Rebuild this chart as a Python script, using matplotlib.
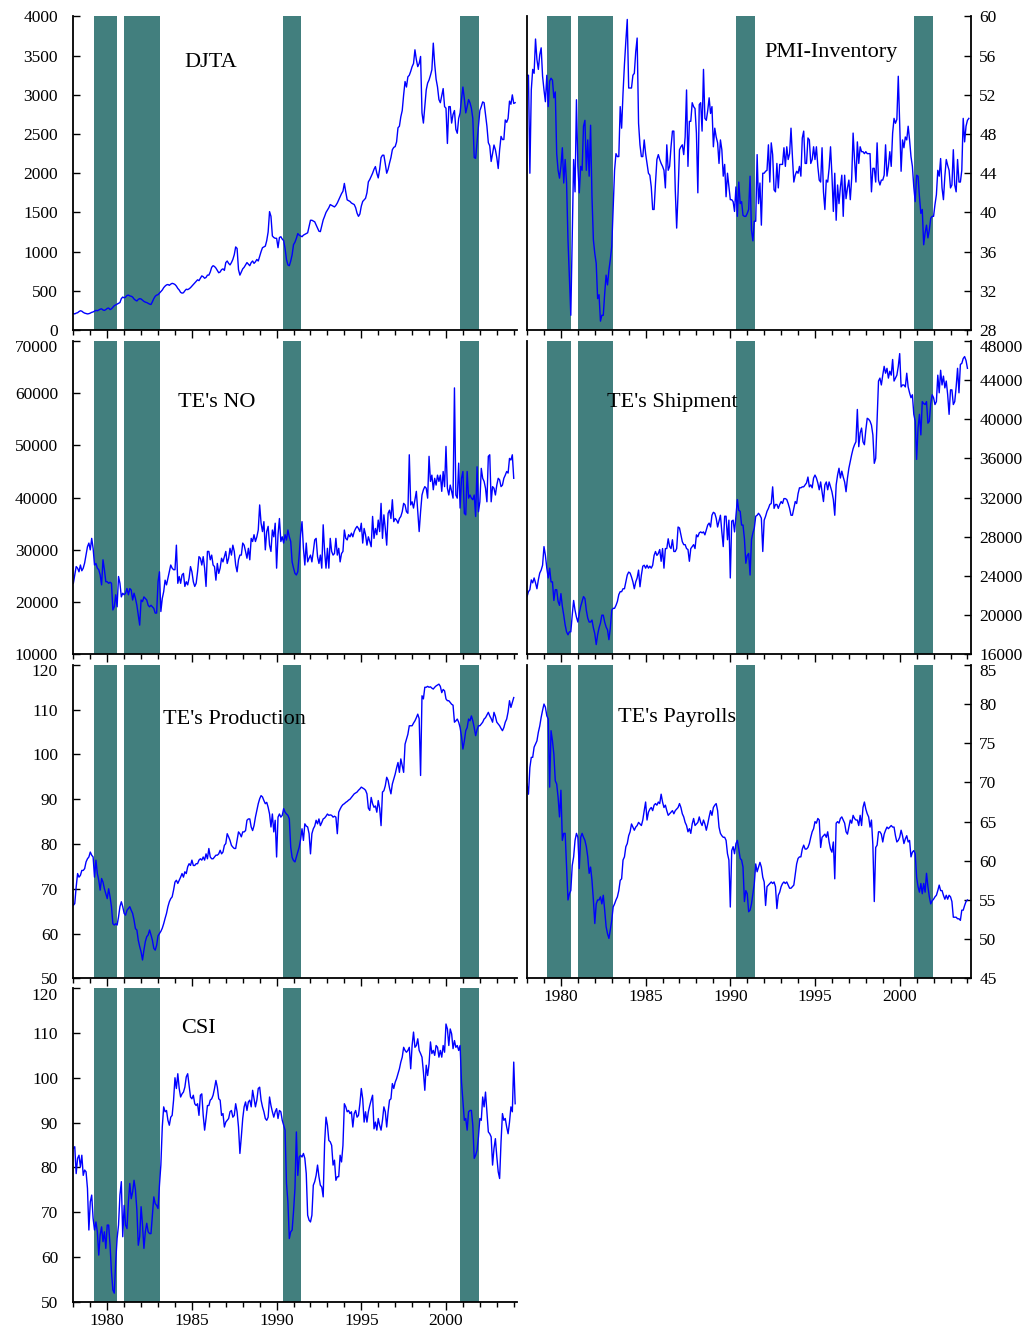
import numpy as np
import matplotlib.pyplot as plt
from matplotlib.ticker import MultipleLocator, FixedLocator
from matplotlib.transforms import ScaledTranslation

plt.rcParams['font.family'] = ['Liberation Serif', 'DejaVu Serif']

# shaded periods, decimal years
shade_start = [1979.2, 1981.0, 1990.35, 2000.85]
shade_end = [1980.6, 1983.1, 1991.45, 2001.95]

# monthly series, Jan 1978 onward (one row per year)
djta = [
    210, 205, 215, 220, 235, 245, 240, 225, 215, 210, 205, 208,
    215, 225, 230, 240, 250, 245, 255, 265, 270, 255, 250, 260,
    275, 280, 260, 270, 290, 310, 320, 330, 340, 350, 400, 420,
    410, 420, 440, 445, 435, 430, 420, 395, 380, 370, 390, 400,
    395, 380, 365, 355, 350, 340, 330, 325, 360, 400, 430, 445,
    450, 470, 490, 510, 540, 560, 575, 580, 570, 585, 595, 590,
    580, 560, 530, 510, 480, 470, 475, 500, 520, 515, 525, 540,
    560, 580, 600, 620, 640, 630, 660, 690, 680, 660, 670, 700,
    700, 740, 800, 820, 810, 790, 760, 730, 740, 770, 780, 760,
    860, 880, 850, 830, 860, 900, 960, 1060, 1040, 770, 700, 740,
    780, 800, 830, 860, 840, 820, 860, 880, 850, 870, 900, 880,
    940, 1000, 1050, 1060, 1070, 1140, 1250, 1510, 1450, 1200, 1180, 1170,
    1170, 1050, 1180, 1190, 1160, 1140, 1040, 900, 830, 820, 880, 960,
    1090, 1120, 1170, 1230, 1210, 1200, 1190, 1210, 1220, 1230, 1240, 1320,
    1400, 1400, 1390, 1380, 1340, 1300, 1260, 1255, 1330, 1404, 1450, 1500,
    1530, 1560, 1600, 1590, 1580, 1570, 1590, 1620, 1660, 1700, 1740, 1770,
    1870, 1760, 1660, 1650, 1640, 1620, 1610, 1600, 1560, 1490, 1450, 1480,
    1580, 1640, 1660, 1680, 1750, 1890, 1920, 1960, 2000, 2050, 2085, 2000,
    1940, 2050, 2200, 2230, 2230, 2120, 2000, 2050, 2130, 2200, 2300, 2330,
    2340, 2400, 2580, 2600, 2720, 2800, 3000, 3170, 3100, 3230, 3250, 3300,
    3360, 3400, 3575, 3450, 3360, 3400, 3490, 2770, 2640, 2850, 3064, 3150,
    3190, 3250, 3320, 3660, 3390, 3200, 3100, 2940, 2900, 2990, 3080, 2850,
    2830, 2380, 2850, 2850, 2640, 2750, 2800, 2560, 2510, 2700, 2770, 2950,
    3100, 2950, 2770, 2850, 2940, 2900, 2830, 2700, 2200, 2190, 2400, 2600,
    2800, 2850, 2910, 2900, 2750, 2600, 2390, 2350, 2150, 2250, 2360, 2300,
    2200, 2060, 2300, 2470, 2430, 2430, 2680, 2650, 2700, 2920, 2880, 3000,
    2890, 2900,
]

pmi_inventory = [
    54.0, 54.0, 44.0, 52.5, 54.6, 54.2, 57.7, 55.6, 54.6, 56.1, 56.8, 53.9,
    52.5, 51.3, 54.0, 50.8, 53.4, 53.7, 53.5, 51.7, 52.3, 46.0, 44.3, 43.5,
    44.7, 46.6, 43.0, 45.4, 43.0, 37.2, 33.4, 29.5, 37.5, 45.4, 42.1, 51.5,
    44.7, 42.0, 44.7, 44.3, 48.8, 49.4, 44.3, 47.4, 43.7, 48.9, 41.6, 37.2,
    35.8, 34.8, 31.2, 31.6, 28.9, 29.5, 29.5, 31.7, 33.6, 32.6, 34.1, 35.2,
    36.5, 40.3, 44.3, 46.0, 45.7, 45.7, 50.8, 48.6, 52.2, 55.1, 57.5, 59.7,
    52.7, 52.7, 52.7, 54.0, 54.2, 56.4, 57.8, 49.1, 46.9, 45.7, 45.7, 47.4,
    46.0, 45.0, 44.0, 43.8, 42.6, 40.3, 40.3, 43.0, 45.4, 45.9, 45.4, 45.0,
    44.7, 44.3, 42.5, 46.9, 44.3, 44.7, 46.7, 48.3, 48.3, 42.3, 38.4, 42.0,
    46.4, 46.7, 46.9, 45.9, 47.7, 52.5, 44.7, 49.3, 49.3, 51.2, 50.8, 50.6,
    48.1, 42.0, 51.0, 51.2, 48.3, 54.6, 49.6, 49.4, 50.4, 51.7, 50.1, 50.8,
    46.7, 48.6, 47.7, 47.1, 45.0, 47.4, 46.4, 43.7, 44.9, 41.6, 44.0, 42.6,
    41.3, 41.3, 41.1, 40.1, 42.6, 39.6, 43.1, 40.9, 41.1, 39.7, 39.6, 39.6,
    39.9, 40.3, 43.7, 38.2, 37.1, 39.1, 39.1, 45.9, 40.9, 43.0, 38.7, 44.0,
    44.0, 44.2, 44.3, 46.9, 43.1, 47.1, 45.9, 42.3, 42.1, 45.0, 42.5, 44.9,
    44.9, 44.9, 46.6, 44.7, 46.7, 45.4, 46.0, 48.6, 45.7, 43.1, 43.8, 44.2,
    44.0, 44.7, 43.7, 47.6, 48.3, 45.0, 45.0, 47.6, 47.4, 45.0, 45.4, 46.7,
    45.4, 46.7, 44.7, 43.3, 43.1, 46.6, 42.1, 40.3, 43.3, 43.1, 44.5, 46.7,
    43.8, 40.1, 44.0, 39.2, 42.8, 40.9, 42.6, 43.8, 39.6, 43.8, 41.4, 42.5,
    43.3, 41.3, 43.5, 48.1, 45.4, 43.1, 47.2, 45.0, 46.7, 46.2, 46.2, 46.0,
    46.2, 46.0, 46.0, 46.0, 42.1, 44.5, 44.5, 43.1, 47.1, 43.3, 42.8, 43.3,
    43.3, 43.8, 46.9, 43.7, 44.7, 46.2, 44.7, 48.1, 49.6, 49.1, 49.5, 53.9,
    49.1, 44.2, 47.4, 46.6, 47.7, 47.4, 48.8, 47.4, 45.7, 44.7, 42.6, 41.1,
    43.8, 43.7, 41.6, 39.9, 40.3, 36.7, 37.9, 38.7, 37.4, 38.2, 39.4, 39.6,
    39.6, 40.8, 41.8, 44.3, 43.7, 45.5, 42.5, 41.3, 43.7, 45.4, 44.8, 44.3,
    42.5, 42.8, 46.4, 42.8, 42.1, 45.4, 43.1, 43.1, 44.3, 49.6, 47.2, 48.8,
    49.4, 49.6,
]

te_no = [
    23600, 25200, 26800, 26500, 25800, 27100, 26000, 26500, 27500, 29000, 30600, 31300,
    30000, 32200, 30300, 27100, 27400, 26500, 26200, 25200, 23300, 28100, 26200, 23900,
    23900, 23600, 23800, 23600, 18500, 19100, 21400, 19100, 24900, 23600, 21000, 21700,
    21400, 21700, 22600, 21400, 22600, 22300, 20400, 21700, 20700, 19400, 17500, 15600,
    20400, 20100, 21000, 20700, 20400, 19400, 19100, 19400, 19100, 18800, 17900, 17900,
    23900, 25800, 18200, 20700, 22000, 24200, 23300, 24600, 25800, 27100, 26500, 26200,
    26200, 30900, 23600, 24900, 23600, 25200, 25500, 23000, 23900, 23300, 24600, 26800,
    25800, 23900, 23000, 23600, 25800, 28700, 28400, 27100, 28700, 26500, 23000, 29700,
    29700, 28100, 29000, 27100, 26800, 24200, 27400, 25500, 26500, 28400, 27700, 28700,
    29700, 27400, 28400, 30300, 29000, 30900, 29700, 27100, 25800, 28100, 29000, 29000,
    31300, 30900, 29700, 28400, 30300, 28100, 32200, 31600, 32900, 31600, 32500, 33800,
    38600, 35100, 33500, 35400, 30000, 33500, 34500, 30900, 29700, 33800, 32500, 35100,
    26500, 32900, 36000, 31600, 32500, 31300, 32900, 31900, 33800, 32500, 31600, 27700,
    26500, 25500, 25200, 25800, 29000, 33000, 35400, 30300, 27100, 31300, 27700, 28400,
    29000, 27700, 29700, 31900, 32200, 28700, 27400, 29000, 26500, 34800, 29700, 26500,
    30300, 26500, 32200, 29700, 29000, 29300, 32200, 29000, 30300, 27700, 29300, 29700,
    33800, 32200, 31900, 32900, 32500, 33200, 32500, 33500, 34100, 34500, 34100, 33500,
    35100, 31300, 34100, 32900, 30900, 32500, 31600, 30600, 36400, 32200, 34100, 32900,
    35700, 33500, 38900, 32200, 36700, 34100, 30900, 37000, 37600, 36000, 39600, 35400,
    36000, 35700, 35100, 36000, 36400, 37300, 38900, 38600, 37300, 37000, 48200, 38600,
    39200, 38000, 39600, 41200, 37300, 33500, 37300, 40500, 41500, 42100, 41800, 39900,
    47900, 43100, 44300, 41500, 43700, 42400, 44300, 43100, 44300, 41200, 45000, 42100,
    49800, 41800, 40500, 42400, 41200, 39900, 61000, 40500, 39900, 46600, 38000, 43700,
    45000, 37000, 36700, 45000, 39900, 40500, 39900, 39600, 40500, 36400, 45900, 37300,
    39200, 45600, 43700, 43100, 41800, 39200, 47900, 48200, 39200, 42100, 41800, 40500,
    42400, 43700, 43400, 42100, 42400, 43700, 44300, 45000, 44700, 47500, 47200, 48200,
    43700,
]

te_shipment = [
    21900, 22400, 22600, 23600, 23300, 23800, 23300, 22700, 23600, 24300, 24600, 25100,
    27000, 26100, 24800, 23800, 24800, 23400, 23400, 21500, 22600, 22600, 21400, 21000,
    22200, 20900, 20000, 19000, 18300, 18000, 18300, 18300, 20000, 21500, 20500, 19800,
    19300, 20200, 20900, 21400, 21900, 21700, 20500, 19700, 19300, 19300, 19500, 18700,
    18100, 17000, 18000, 18700, 19200, 20000, 20000, 19300, 18800, 18500, 17500, 18700,
    20500, 20700, 20700, 21000, 21400, 22100, 22400, 22400, 22700, 22700, 23400, 24100,
    24400, 24300, 23900, 23400, 22700, 23400, 23800, 24600, 22900, 24100, 25000, 25100,
    24800, 25100, 24800, 25000, 24800, 25100, 26100, 26500, 26100, 26300, 26700, 25500,
    26800, 24800, 26800, 26800, 27800, 27000, 26800, 27700, 26500, 26500, 26800, 29000,
    28900, 28200, 27500, 27200, 27200, 26800, 26700, 25500, 26800, 27000, 27200, 26800,
    28200, 28000, 28400, 28500, 28400, 28500, 28200, 28700, 29200, 29400, 29000, 30200,
    30500, 30400, 29900, 29000, 29600, 30200, 28500, 27000, 30100, 30100, 27700, 29700,
    23800, 29600, 29700, 28500, 30100, 31800, 30700, 30600, 29200, 29200, 27800, 25300,
    26100, 26300, 24100, 27700, 28400, 28900, 30100, 30200, 30400, 30200, 29900, 26500,
    29700, 30100, 30600, 30900, 31300, 31400, 33100, 30900, 31300, 31300, 30900, 31300,
    31600, 31400, 31900, 31900, 31800, 31400, 30900, 30200, 30200, 30900, 31600, 31400,
    32400, 33000, 33000, 33100, 33100, 33300, 33500, 34100, 33100, 33300, 33000, 34000,
    34300, 34000, 33500, 32800, 33600, 32600, 31600, 33300, 33600, 32800, 33600, 33100,
    32600, 31800, 30200, 33300, 34300, 35000, 34000, 34700, 34100, 33600, 32600, 34000,
    35000, 35700, 36400, 37000, 37400, 37700, 41000, 37200, 38600, 39100, 37700, 37400,
    38900, 40100, 40000, 39800, 39400, 38400, 35500, 36000, 40100, 43900, 44200, 43500,
    44500, 45400, 44700, 45200, 44200, 44900, 44500, 46100, 43900, 44200, 44500, 45400,
    46700, 43300, 43500, 43500, 43300, 44700, 43300, 42700, 42200, 42500, 40500, 39800,
    35900, 39100, 40500, 38400, 41800, 41600, 41500, 41800, 39600, 39800, 41600, 42500,
    42200, 41500, 41800, 44500, 42700, 45000, 43500, 44400, 43200, 43900, 42500, 40500,
    43000, 43000, 41500, 41800, 43300, 45200, 42700, 45600, 45700, 46200, 46400, 46000,
    45200,
]

te_production = [
    66.3, 66.7, 70.4, 73.4, 72.6, 73.0, 74.1, 74.1, 74.5, 76.0, 76.7, 77.1,
    78.2, 77.5, 77.1, 72.6, 76.4, 73.4, 71.9, 69.7, 72.3, 71.5, 70.0, 68.9,
    67.8, 70.0, 68.2, 66.0, 62.2, 61.9, 62.2, 61.9, 63.7, 66.0, 67.1, 66.0,
    64.5, 64.1, 65.2, 65.6, 66.0, 65.2, 64.5, 63.0, 61.1, 60.8, 58.5, 57.1,
    55.9, 54.1, 56.3, 58.2, 59.3, 59.7, 60.8, 59.7, 58.5, 56.7, 56.3, 57.4,
    59.5, 60.0, 60.5, 61.2, 62.2, 63.4, 64.5, 66.0, 67.1, 67.8, 68.2, 69.7,
    71.5, 71.9, 71.2, 71.9, 72.6, 73.4, 72.6, 73.8, 73.4, 74.9, 75.6, 75.2,
    76.4, 75.2, 75.2, 75.6, 75.6, 76.4, 76.7, 76.4, 77.1, 76.4, 77.8, 76.7,
    79.0, 77.1, 76.7, 76.7, 77.1, 77.5, 77.5, 77.8, 78.6, 77.8, 78.2, 79.7,
    80.1, 82.3, 81.6, 80.8, 79.7, 79.3, 79.0, 79.0, 80.8, 82.7, 82.3, 81.6,
    82.7, 82.7, 83.0, 85.3, 85.6, 85.6, 83.8, 83.0, 84.1, 86.0, 87.5, 89.0,
    90.1, 90.8, 90.5, 89.7, 89.0, 89.3, 88.2, 86.7, 83.8, 86.7, 82.7, 85.3,
    77.1, 86.0, 86.7, 86.0, 86.4, 87.9, 87.1, 86.7, 86.4, 85.6, 79.3, 77.0,
    76.3, 76.0, 77.1, 78.2, 79.3, 81.0, 83.4, 80.8, 84.5, 84.0, 83.8, 82.3,
    77.8, 82.3, 83.4, 84.0, 85.3, 84.5, 85.6, 84.1, 84.8, 85.6, 85.8, 86.2,
    86.7, 86.4, 86.5, 86.4, 86.0, 86.2, 86.0, 82.3, 87.1, 87.8, 88.4, 88.8,
    89.0, 89.3, 89.5, 89.8, 90.0, 90.4, 90.8, 91.2, 91.4, 91.6, 92.0, 92.3,
    92.7, 92.5, 92.3, 92.0, 91.2, 88.0, 87.5, 90.4, 89.0, 88.2, 88.5, 87.1,
    89.7, 88.0, 84.1, 91.6, 91.9, 93.0, 94.9, 94.2, 92.5, 91.2, 93.4, 94.5,
    95.6, 97.0, 98.2, 96.0, 99.0, 97.5, 96.0, 102.3, 103.4, 104.5, 106.4, 106.4,
    106.4, 107.0, 107.5, 108.2, 109.0, 108.0, 95.3, 113.1, 112.4, 115.0, 115.0, 115.2,
    115.0, 115.1, 114.8, 114.6, 115.0, 115.3, 115.5, 115.7, 115.2, 113.8, 114.5, 114.2,
    112.4, 112.0, 112.0, 111.6, 111.2, 111.0, 107.2, 107.5, 107.9, 107.2, 106.0, 104.0,
    101.2, 103.0, 105.3, 106.0, 107.9, 107.5, 108.6, 107.5, 106.0, 104.2, 105.5, 106.4,
    106.4, 106.8, 107.2, 107.9, 108.2, 108.8, 109.4, 108.6, 108.0, 107.2, 109.4, 108.5,
    107.2, 106.8, 106.4, 105.8, 105.3, 106.0, 107.2, 107.9, 109.5, 112.0, 110.5, 111.6,
    112.7,
]

te_payrolls = [
    69.8, 68.5, 71.9, 73.2, 73.2, 74.5, 74.9, 75.3, 76.4, 77.2, 78.3, 79.2,
    80.0, 79.6, 78.5, 78.1, 69.4, 76.6, 75.3, 73.6, 70.2, 69.8, 68.1, 65.6,
    69.0, 62.6, 63.5, 63.5, 59.2, 55.0, 55.8, 56.2, 59.4, 60.5, 62.6, 63.5,
    63.0, 59.0, 63.0, 63.5, 63.0, 62.6, 61.8, 60.5, 58.4, 59.2, 57.5, 55.0,
    52.0, 54.5, 55.0, 55.0, 55.4, 54.5, 55.6, 53.7, 51.6, 50.7, 50.1, 51.2,
    52.4, 54.1, 54.5, 55.0, 55.4, 56.2, 57.5, 57.7, 60.1, 60.5, 61.8, 62.2,
    63.2, 63.7, 64.7, 64.3, 63.9, 64.3, 64.5, 64.9, 64.7, 64.5, 65.2, 66.4,
    67.5, 65.2, 66.2, 66.6, 66.8, 66.4, 67.1, 67.3, 67.1, 67.5, 67.3, 68.5,
    67.5, 66.8, 67.1, 66.4, 65.8, 66.0, 66.2, 66.4, 66.0, 66.4, 66.6, 66.8,
    67.3, 66.8, 66.0, 65.6, 64.9, 64.5, 63.7, 64.1, 63.5, 64.7, 65.4, 64.5,
    64.7, 64.9, 65.6, 64.9, 64.5, 65.2, 64.7, 63.9, 64.7, 65.6, 66.4, 65.8,
    66.8, 67.1, 67.3, 66.4, 64.3, 63.5, 63.2, 63.0, 63.0, 62.6, 60.9, 60.1,
    54.1, 61.3, 61.8, 60.9, 62.2, 62.6, 61.5, 60.3, 60.1, 59.2, 54.8, 56.2,
    55.8, 53.5, 53.7, 54.5, 55.8, 57.1, 59.6, 58.6, 59.2, 59.8, 59.2, 57.9,
    57.3, 54.3, 56.7, 56.9, 57.1, 57.3, 57.1, 57.3, 56.7, 53.9, 55.6, 56.0,
    56.7, 57.1, 57.3, 57.1, 57.3, 56.9, 56.5, 56.5, 56.7, 56.9, 58.2, 59.6,
    60.3, 60.5, 60.5, 61.5, 62.0, 61.5, 61.5, 61.7, 62.2, 63.0, 63.7, 64.1,
    65.0, 64.8, 65.4, 65.2, 61.7, 63.0, 63.2, 63.4, 63.0, 63.7, 62.4, 61.5,
    61.1, 62.4, 57.7, 64.8, 65.0, 64.8, 65.4, 65.6, 65.2, 64.8, 63.7, 63.4,
    64.3, 65.2, 64.8, 65.8, 65.4, 65.2, 65.2, 64.5, 65.8, 64.5, 66.8, 67.5,
    66.6, 66.0, 65.6, 64.3, 65.2, 62.0, 54.8, 61.7, 62.0, 63.7, 63.7, 63.4,
    62.4, 63.4, 63.9, 64.3, 64.1, 64.3, 64.5, 64.3, 64.3, 63.2, 62.4, 62.6,
    63.0, 63.9, 63.2, 62.2, 62.8, 63.2, 62.4, 62.6, 60.5, 61.1, 61.3, 60.9,
    57.9, 56.7, 56.0, 57.1, 55.8, 57.1, 56.0, 58.4, 56.7, 55.4, 54.5, 54.9,
    55.1, 55.4, 55.6, 56.2, 56.9, 56.2, 56.2, 55.6, 55.1, 55.6, 55.1, 55.6,
    55.4, 54.8, 52.8, 52.8, 52.8, 52.6, 52.6, 52.4, 53.7, 53.7, 54.3, 54.8,
    55.0,
]

csi = [
    84.2, 84.6, 78.6, 82.0, 82.7, 80.1, 82.7, 78.2, 79.4, 79.0, 75.3, 66.0,
    72.3, 73.8, 68.6, 66.0, 67.8, 65.6, 60.4, 64.9, 66.7, 63.4, 65.6, 61.9,
    67.1, 67.1, 62.6, 56.7, 52.6, 51.9, 58.9, 64.1, 67.1, 73.8, 76.8, 64.5,
    71.5, 67.1, 66.3, 72.3, 76.4, 73.0, 74.5, 77.1, 74.9, 70.5, 62.6, 64.5,
    71.2, 67.1, 61.9, 65.6, 67.5, 65.6, 65.2, 65.2, 69.3, 73.4, 71.9, 71.5,
    70.8, 76.0, 80.5, 89.0, 93.5, 92.4, 92.7, 90.5, 89.4, 91.2, 91.6, 95.0,
    100.0, 97.6, 100.9, 97.6, 95.7, 96.4, 96.8, 97.9, 100.2, 100.9, 98.3, 95.7,
    95.3, 96.1, 94.2, 93.8, 94.2, 91.6, 96.1, 96.4, 91.6, 88.3, 90.9, 93.8,
    93.8, 95.0, 95.3, 96.1, 97.6, 99.4, 97.9, 95.3, 95.0, 91.6, 92.0, 89.0,
    90.1, 90.5, 90.9, 92.4, 92.7, 91.2, 91.6, 94.2, 92.4, 89.0, 83.1, 86.8,
    90.9, 93.5, 94.6, 92.7, 94.6, 95.0, 93.5, 97.2, 95.3, 93.5, 95.0, 97.6,
    97.9, 95.0, 93.5, 92.4, 90.9, 90.5, 91.2, 95.7, 93.8, 92.4, 91.2, 92.4,
    93.1, 90.9, 92.7, 92.4, 90.5, 89.4, 88.3, 76.4, 72.3, 64.1, 65.6, 66.0,
    70.2, 75.3, 87.9, 78.2, 82.3, 82.7, 82.3, 83.1, 82.0, 78.6, 69.3, 68.2,
    67.8, 69.3, 76.0, 76.8, 78.2, 80.5, 77.9, 76.0, 75.6, 73.4, 85.3, 91.2,
    89.4, 86.0, 85.7, 84.9, 80.5, 81.6, 77.1, 77.9, 77.9, 82.7, 81.2, 84.9,
    94.2, 93.5, 92.4, 92.7, 92.0, 92.4, 89.0, 92.0, 92.7, 91.2, 91.6, 94.2,
    97.6, 95.3, 90.1, 92.4, 90.1, 92.4, 93.8, 95.0, 96.1, 88.6, 90.1, 88.3,
    90.9, 89.4, 88.3, 90.5, 93.5, 92.4, 89.0, 92.4, 95.0, 95.3, 98.7, 97.6,
    99.0, 99.8, 100.9, 102.0, 103.5, 104.6, 106.8, 106.1, 105.7, 106.1, 106.8, 102.0,
    107.2, 110.2, 106.8, 107.2, 108.7, 106.1, 105.4, 104.6, 101.3, 97.2, 102.8, 100.5,
    103.1, 108.0, 105.4, 106.1, 105.0, 107.2, 106.8, 104.6, 106.1, 104.6, 107.2, 105.7,
    112.0, 110.9, 107.2, 110.9, 109.8, 106.5, 108.3, 106.8, 107.2, 106.1, 107.2, 99.0,
    94.6, 90.5, 90.9, 88.3, 92.4, 92.7, 92.7, 89.4, 82.0, 82.7, 83.8, 86.8,
    90.9, 90.5, 95.7, 93.5, 96.8, 92.4, 87.9, 87.5, 86.8, 80.5, 84.2, 86.4,
    82.4, 79.0, 77.5, 85.7, 92.0, 90.5, 90.9, 89.0, 87.5, 90.1, 93.5, 92.4,
    103.5, 94.2,
]

band_color = '#427f7e'
line_color = '#0000ff'


def draw_panel(fig, ax, vals, name, ylo, yhi, ystep, right, name_pos,
               show_xlabels, nudge_top):
    t = 1978 + np.arange(len(vals)) / 12.0
    for s, e in zip(shade_start, shade_end):
        ax.axvspan(s, e, color=band_color, lw=0, zorder=1)
    ax.plot(t, vals, color=line_color, lw=1.0, zorder=2)
    ax.set_xlim(1978, 2004.2)
    ax.set_ylim(ylo, yhi)
    ax.yaxis.set_major_locator(FixedLocator(list(np.arange(ylo, yhi + ystep / 2, ystep))))
    ax.xaxis.set_major_locator(FixedLocator([1980, 1985, 1990, 1995, 2000]))
    ax.xaxis.set_minor_locator(FixedLocator(list(range(1978, 2005))))

    ax.spines['top'].set_visible(False)
    for sp in ax.spines.values():
        sp.set_linewidth(1.3)
    if right:
        ax.yaxis.tick_right()
        ax.tick_params(axis='y', direction='in', length=5, width=1.0,
                       labelsize=12.5, pad=6, left=False, right=True)
    else:
        ax.spines['right'].set_visible(False)
        ax.tick_params(axis='y', direction='in', length=5, width=1.0,
                       labelsize=12.5, pad=11)
    ax.tick_params(axis='x', which='major', direction='out', length=6,
                   width=1.0, labelsize=12.5, pad=2,
                   labelbottom=show_xlabels)
    ax.tick_params(axis='x', which='minor', direction='out', length=3.5,
                   width=1.0)

    # push the top y label down a little so it clears the panel above
    if nudge_top:
        shift = ScaledTranslation(0, -4 / 72, fig.dpi_scale_trans)
        top = ax.yaxis.get_major_ticks()[-1]
        for lab in (top.label1, top.label2):
            lab.set_transform(lab.get_transform() + shift)

    ax.text(name_pos[0], name_pos[1], name, transform=ax.transAxes,
            ha='center', va='center', fontsize=16, zorder=5)


fig = plt.figure(figsize=(10.23, 13.30), dpi=100)

lx, rx, w = 0.0717, 0.5152, 0.4338
bottoms = [0.7519, 0.5080, 0.2644, 0.0213]
h = 0.2357

ax = fig.add_axes([lx, bottoms[0], w, h])
draw_panel(fig, ax, djta, 'DJTA', 0, 4000, 500, False, (0.31, 0.852), False, False)

ax = fig.add_axes([rx, bottoms[0], w, h])
draw_panel(fig, ax, pmi_inventory, 'PMI-Inventory', 28, 60, 4, True, (0.685, 0.884), False, False)

ax = fig.add_axes([lx, bottoms[1], w, h])
draw_panel(fig, ax, te_no, "TE's NO", 10000, 70000, 10000, False, (0.324, 0.805), False, True)

ax = fig.add_axes([rx, bottoms[1], w, h])
draw_panel(fig, ax, te_shipment, "TE's Shipment", 16000, 48000, 4000, True, (0.327, 0.805), False, True)

ax = fig.add_axes([lx, bottoms[2], w, h])
draw_panel(fig, ax, te_production, "TE's Production", 50, 120, 10, False, (0.362, 0.825), False, True)

ax = fig.add_axes([rx, bottoms[2], w, h])
draw_panel(fig, ax, te_payrolls, "TE's Payrolls", 45, 85, 5, True, (0.338, 0.831), True, True)

ax = fig.add_axes([lx, bottoms[3], w, h])
draw_panel(fig, ax, csi, 'CSI', 50, 120, 10, False, (0.281, 0.872), True, True)

fig.savefig('out.png', dpi=100)
